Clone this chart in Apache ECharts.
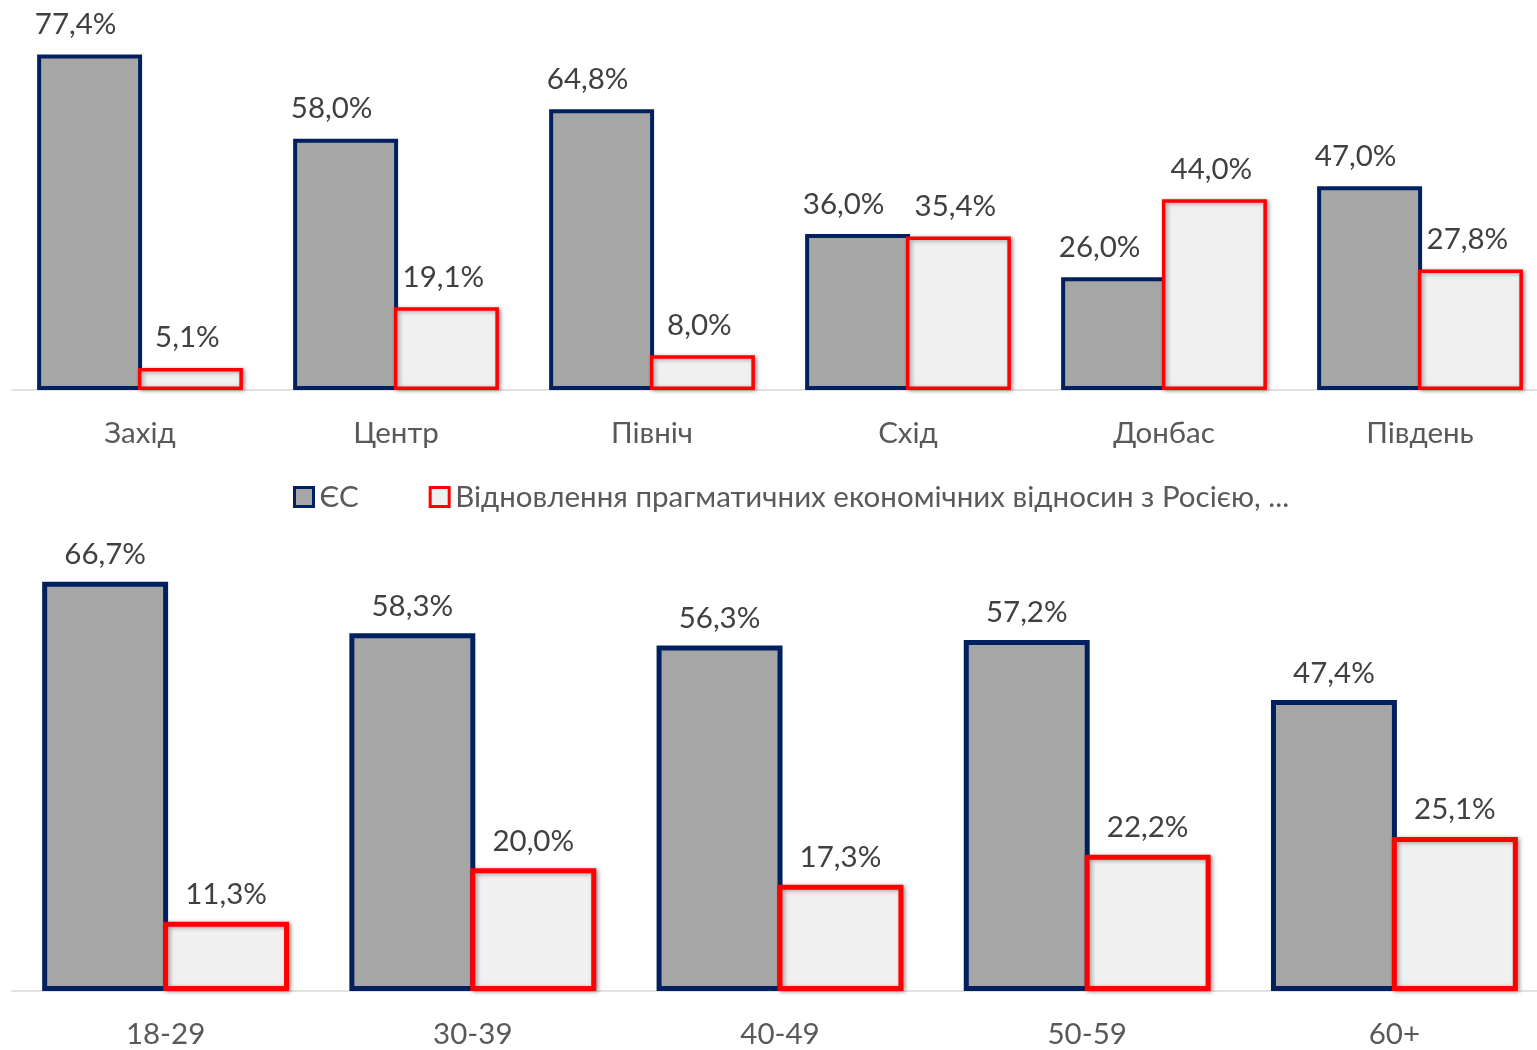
<!DOCTYPE html>
<html>
<head>
<meta charset="utf-8">
<script src="https://cdn.jsdelivr.net/npm/echarts@6/dist/echarts.min.js"></script>
<style>html,body{margin:0;padding:0;background:#fff;overflow:hidden}#c{width:1548px;height:1050px}</style>
</head>
<body>
<div id="c"></div>
<script>
const regions = ['Захід', 'Центр', 'Північ', 'Схід', 'Донбас', 'Південь'];
const euRegion = [77.4, 58.0, 64.8, 36.0, 26.0, 47.0];
const ruRegion = [5.1, 19.1, 8.0, 35.4, 44.0, 27.8];
const ages = ['18-29', '30-39', '40-49', '50-59', '60+'];
const euAge = [66.7, 58.3, 56.3, 57.2, 47.4];
const ruAge = [11.3, 20.0, 17.3, 22.2, 25.1];
const nameEU = 'ЄС';
const nameRU = 'Відновлення прагматичних економічних відносин з Росією, ...';

const FONT = 'Lato';
const FS = 29.5;
const fmt = p => p.value.toFixed(1).replace('.', ',') + '%';
const euStyle = (bw) => ({ color: '#A6A6A6', borderColor: '#002060', borderWidth: bw });
const ruStyle = (bw) => ({ color: '#F0F0F0', borderColor: '#FF0000', borderWidth: bw,
  shadowColor: 'rgba(0,0,0,0.35)', shadowBlur: 4, shadowOffsetX: 2, shadowOffsetY: 1 });
const lbl = (off, dist) => ({ show: true, position: 'top', distance: dist, offset: off, formatter: fmt,
  fontFamily: FONT, fontSize: FS, color: '#404040' });

const xAxisCommon = {
  type: 'category',
  axisLine: { lineStyle: { color: '#D9D9D9', width: 1.5 } },
  axisTick: { show: false },
  axisLabel: { fontFamily: FONT, fontSize: FS, color: '#595959', margin: 28 }
};

const BW = '41%';
const GAP = '-4%';

const chart = echarts.init(document.getElementById('c'));
chart.setOption({
  animation: false,
  textStyle: { fontFamily: FONT },
  legend: {
    top: 477, left: 288, itemWidth: 19, itemHeight: 19, itemGap: 70,
    icon: 'rect',
    itemStyle: { borderWidth: 3 },
    textStyle: { fontFamily: FONT, fontSize: FS, color: '#595959', padding: [0, 0, 0, 1] },
    data: [nameEU, nameRU]
  },
  grid: [
    { left: 12, right: 0, top: 0, height: 390 },
    { left: 12, right: 0, top: 500, height: 491 }
  ],
  xAxis: [
    Object.assign({ gridIndex: 0, data: regions }, xAxisCommon),
    Object.assign({ gridIndex: 1, data: ages }, xAxisCommon)
  ],
  yAxis: [
    { gridIndex: 0, type: 'value', min: 0, max: 90, show: false, splitLine: { show: false } },
    { gridIndex: 1, type: 'value', min: 0, max: 80, show: false, splitLine: { show: false } }
  ],
  series: [
    { name: nameEU, type: 'bar', xAxisIndex: 0, yAxisIndex: 0, data: euRegion,
      barWidth: BW, barGap: GAP, itemStyle: euStyle(4), label: lbl([-14, 0], 15) },
    { name: nameRU, type: 'bar', xAxisIndex: 0, yAxisIndex: 0, data: ruRegion,
      barWidth: BW, barGap: GAP, itemStyle: ruStyle(3.5), label: lbl([-3, 0], 15) },
    { name: nameEU, type: 'bar', xAxisIndex: 1, yAxisIndex: 1, data: euAge,
      barWidth: BW, barGap: GAP, itemStyle: euStyle(5), label: lbl([0, 0], 12) },
    { name: nameRU, type: 'bar', xAxisIndex: 1, yAxisIndex: 1, data: ruAge,
      barWidth: BW, barGap: GAP, itemStyle: ruStyle(5), label: lbl([0, 0], 12) }
  ]
});
</script>
</body>
</html>
